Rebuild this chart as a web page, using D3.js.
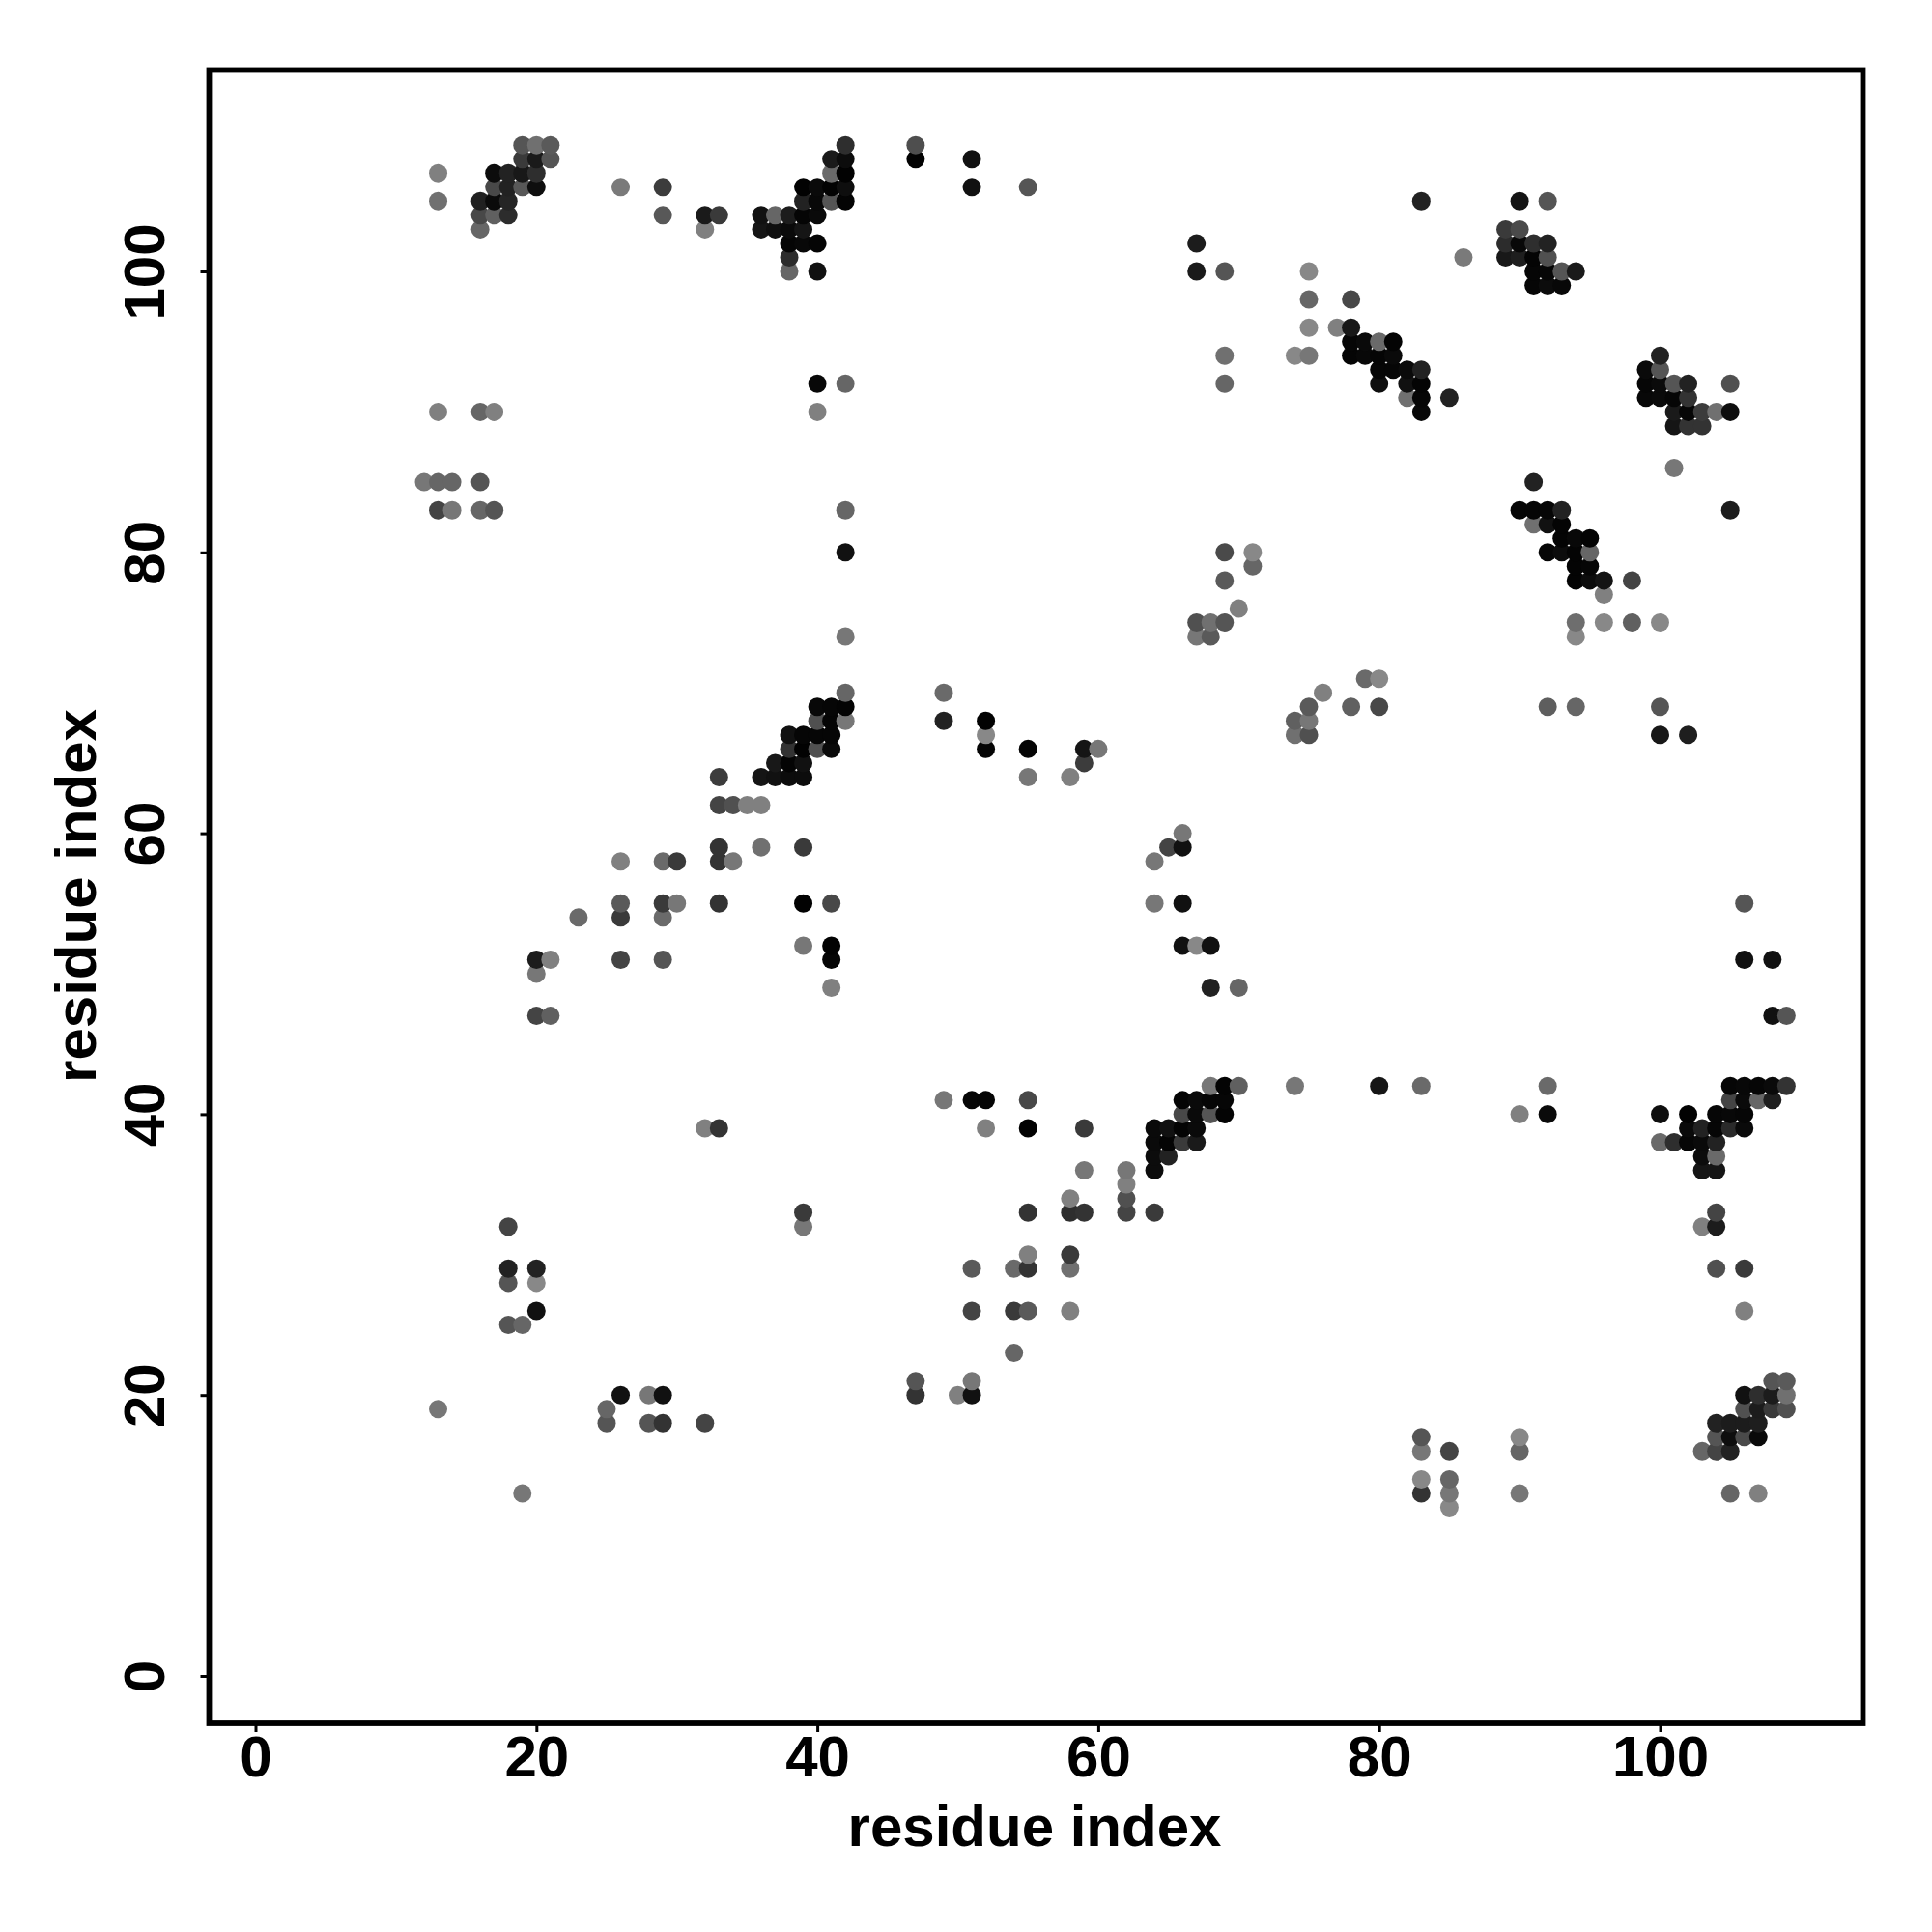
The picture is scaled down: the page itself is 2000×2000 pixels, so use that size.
<!DOCTYPE html>
<html><head><meta charset="utf-8">
<script src="https://cdn.jsdelivr.net/npm/d3@7"></script>
<style>html,body{margin:0;padding:0;background:#fff}svg{display:block}</style>
</head><body><svg id="c" width="2000" height="2000"></svg>
<script>
const xTicks=[0,20,40,60,80,100];
const yTicks=[0,20,40,60,80,100];
const xLabel="residue index";
const yLabel="residue index";
const rowJ=[109,108,107,106,105,104,103,102,101,100,99,98,96,95,94,93,92,91,90,89,86,85,83,82,81,80,79,78,77,76,75,74,71,70,69,68,67,66,65,64,62,60,59,58,55,54,52,51,50,49,47,42,41,40,39,38,37,36,35,34,33,32,30,29,28,26,25,23,21,20,19,18,17,16,14,13,12];
const rowI=[
[19,20,21,42,47],
[19,20,21,41,42,47,51],
[13,17,18,19,20,41,42],
[17,18,19,20,26,29,39,40,41,42,51,55],
[13,16,17,18,39,40,41,42,83,90,92],
[16,17,18,29,32,33,36,37,38,39,40],
[16,32,36,37,38,39,89,90],
[38,39,40,67,89,90,91,92],
[38,86,89,90,91,92],
[38,40,67,69,75,91,92,93,94],
[91,92,93],
[75,78],
[75,77,78],
[78,79,80,81],
[69,74,75,78,79,80,81,100],
[80,81,82,83,99,100],
[40,42,69,80,82,83,99,100,101,102,105],
[82,83,85,99,100,101,102],
[13,16,17,40,83,101,102,103,104,105],
[101,102,103],
[101],
[12,13,14,16,91],
[13,14,16,17,42,90,91,92,93,105],
[91,92,93],
[93,94,95],
[42,69,71,92,93,94,95],
[71,94,95],
[69,94,95,96,98],
[96],
[70],
[67,68,69,94,96,98,100],
[42,67,68,94],
[79,80],
[42,49,76],
[40,41,42,75,78,80,92,94,100],
[40,41,42,49,52,74,75],
[38,39,40,41,52,74,75,100,102],
[38,39,40,41,52,55,59,60],
[37,38,39,59],
[33,36,37,38,39,55,58],
[33,34,35,36],
[66],
[33,36,39,65,66],
[26,29,30,33,34,64],
[26,29,30,33,39,41,64,66,106],
[23,26,29],
[39,41,66,67,68],
[20,21,26,29,41,106,108],
[20],
[41,68,70],
[20,21,108,109],
[68,69,70,74,80,83,92,105,106,107,108,109],
[49,51,52,55,66,67,68,69,105,106,107,108],
[66,67,68,69,90,92,100,102,104,105,106],
[32,33,52,55,59,64,65,66,67,102,103,104,105,106],
[64,65,66,67,100,101,102,103,104],
[64,65,103,104],
[59,62,64,103,104],
[62],
[58,62],
[39,55,58,59,62,64,104],
[18,39,103,104],
[55,58],
[18,20,51,54,55,58,104,106],
[18,20],
[20,51,54,55,58,106],
[18,19],
[54],
[47,51,108,109],
[26,28,29,47,50,51,106,107,108,109],
[13,25,106,107,108,109],
[25,28,29,32,104,105,106,107],
[83,90,104,105,106,107],
[83,85,90,103,104,105],
[83,85],
[19,83,85,90,105,107],
[85]];
const rowShade=[
[85,112,90,46,78],
[58,26,85,26,12,2,17],
[128,12,34,24,46,106,2],
[72,34,88,14,122,60,2,10,2,14,17,85],
[112,32,10,37,34,8,85,4,34,20,85],
[72,96,44,88,26,58,17,102,28,5,10],
[102,128,21,15,10,21,58,74],
[5,8,5,28,44,8,46,34],
[44,122,24,30,4,80],
[102,17,26,85,136,6,6,85,26],
[6,12,8],
[102,72],
[136,128,24],
[6,10,106,4],
[112,136,119,5,8,5,10,34],
[6,6,10,34,10,85],
[8,102,102,14,17,4,6,10,85,34,80],
[112,6,34,8,10,6,51],
[128,102,128,128,8,26,6,60,112,14],
[21,51,51],
[119],
[119,102,102,85,34],
[68,119,102,85,102,6,6,6,34,28],
[112,17,4],
[4,8,4],
[17,74,136,6,12,4,102],
[102,4,6],
[90,4,12,20,68],
[128],
[128],
[80,112,85,110,136,96,136],
[119,119,90,136],
[106,136],
[102,106,128],
[8,6,4,90,96,72,94,102,85],
[80,5,119,34,2,96,119],
[17,6,6,6,136,112,80,24,30],
[51,2,80,10,5,5,21,119],
[24,4,17,60],
[60,21,17,12,12,119,128],
[68,80,128,128],
[119],
[51,112,58,68,17],
[128,106,58,51,119,119],
[90,58,119,51,2,72,119,17,85],
[106,58,106],
[119,2,17,136,17],
[28,128,68,85,5,17,17],
[119],
[128,34,102],
[68,96,17,85],
[119,4,96,119,22,106,106,6,8,6,10,51],
[119,6,5,72,5,10,6,6,68,10,102,30],
[72,10,85,4,128,10,14,2,6,8,6],
[128,51,128,2,58,10,17,4,10,10,34,6,42,10],
[10,4,58,26,106,46,6,10,34],
[12,34,12,106],
[119,119,12,21,21],
[128],
[128,80],
[58,51,46,51,68,58,68],
[68,119,128,28],
[128,58],
[34,34,90,106,51,112,80,58],
[85,136],
[17,68,58,90,128,128],
[85,102],
[102],
[85,119,85,90],
[17,119,17,51,128,17,17,46,28,112],
[119,102,80,28,58,80],
[85,85,51,68,34,28,28,30],
[85,136,85,14,74,10],
[119,68,102,102,68,34],
[136,102],
[119,51,119,119,102,128],
[136]];
const X0=264.5,UNIT=14.54,Y0=1735;
const left=216.5,right=1928.5,top_=72.5,bottom=1784;
const x=d3.scaleLinear().domain([(left-X0)/UNIT,(right-X0)/UNIT]).range([left,right]);
const y=d3.scaleLinear().domain([(Y0-bottom)/UNIT,(Y0-top_)/UNIT]).range([bottom,top_]);
const svg=d3.select("#c");
const pts=rowJ.flatMap((j,r)=>rowI[r].map((i,k)=>({i,j,g:rowShade[r][k]})))
  .sort((a,b)=>d3.ascending(a.i,b.i)||d3.ascending(a.j,b.j));
svg.append("g").selectAll("circle").data(pts).join("circle")
  .attr("cx",d=>x(d.i)).attr("cy",d=>y(d.j)).attr("r",9.5)
  .attr("fill",d=>d3.rgb(d.g,d.g,d.g).formatHex());
svg.append("rect").attr("x",left).attr("y",top_).attr("width",right-left).attr("height",bottom-top_)
  .attr("fill","none").attr("stroke","#000").attr("stroke-width",5.8);
const font="'Liberation Sans',Arial,sans-serif";
const ax=svg.append("g").attr("transform",`translate(0,${bottom})`)
  .call(d3.axisBottom(x).tickValues(xTicks).tickSize(9).tickPadding(0).tickFormat(d3.format("d")));
ax.select(".domain").remove();
ax.selectAll("line").attr("stroke","#000").attr("stroke-width",3);
ax.selectAll("text").attr("y",55).attr("dy",0).attr("fill","#000")
  .attr("font-family",font).attr("font-weight","bold").attr("font-size",60);
const ay=svg.append("g").attr("transform",`translate(${left},0)`)
  .call(d3.axisLeft(y).tickValues(yTicks).tickSize(9).tickFormat(d3.format("d")));
ay.select(".domain").remove();
ay.selectAll("line").attr("stroke","#000").attr("stroke-width",3);
ay.selectAll("text").attr("x",null).attr("dy",null).attr("text-anchor","middle").attr("fill","#000")
  .attr("font-family",font).attr("font-weight","bold").attr("font-size",60)
  .attr("transform","translate(-46.5,0) rotate(-90)");
svg.append("text").attr("x",1071).attr("y",1911).attr("text-anchor","middle")
  .attr("font-family",font).attr("font-weight","bold").attr("font-size",60).text(xLabel);
svg.append("text").attr("transform","translate(99,927.5) rotate(-90)").attr("text-anchor","middle")
  .attr("font-family",font).attr("font-weight","bold").attr("font-size",60).text(yLabel);
</script></body></html>
